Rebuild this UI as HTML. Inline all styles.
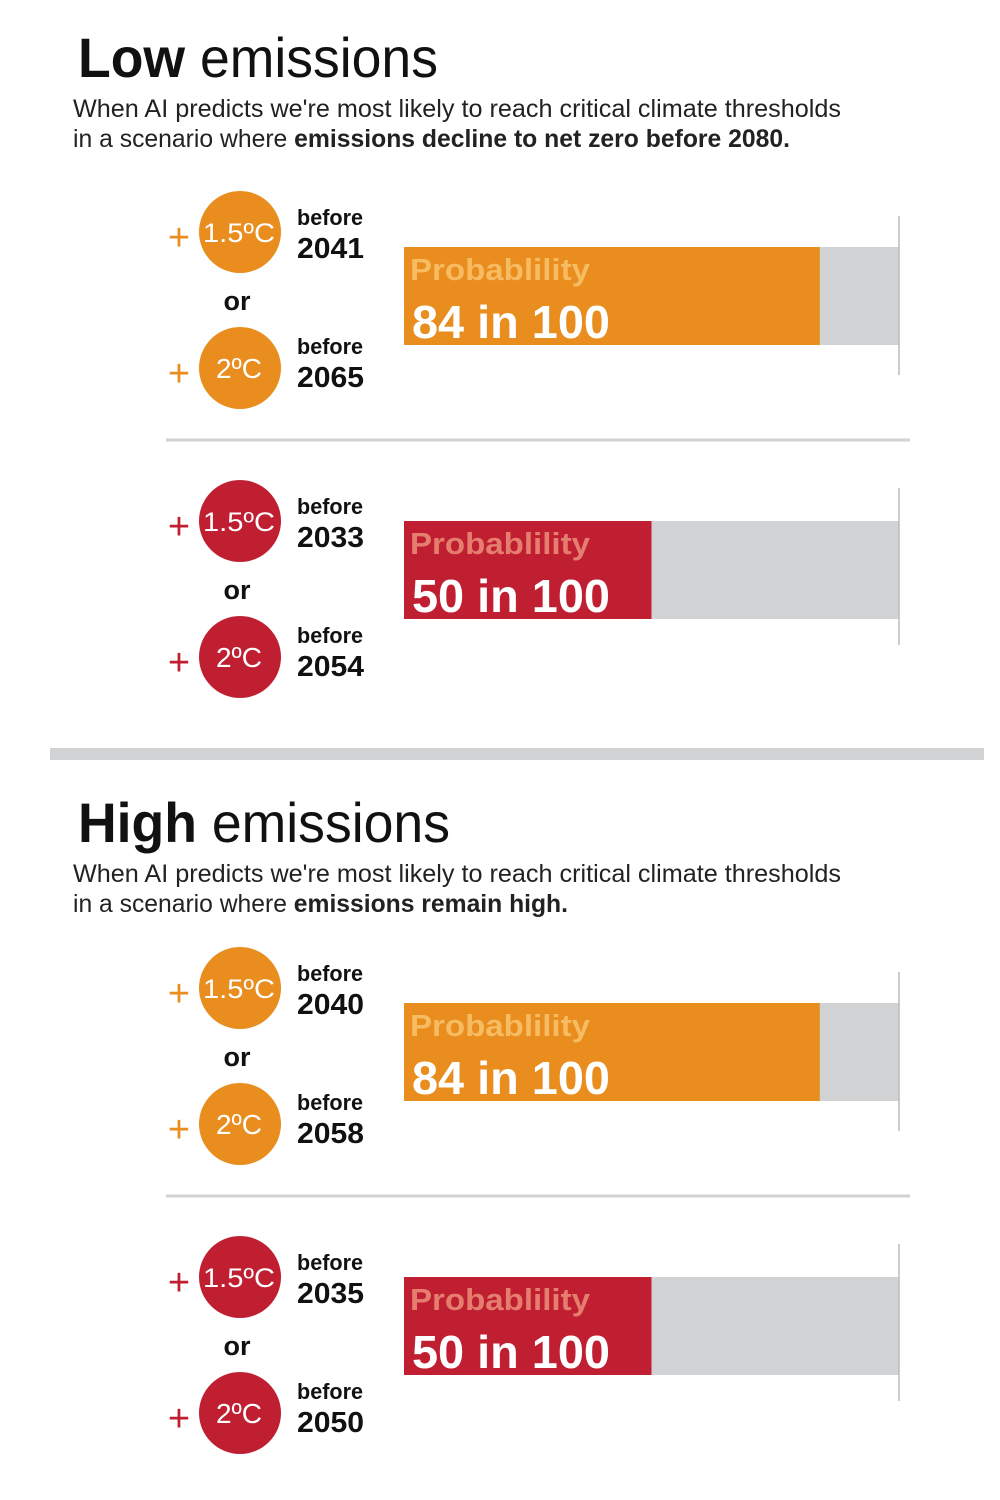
<!DOCTYPE html>
<html><head><meta charset="utf-8">
<style>
html,body{margin:0;padding:0;background:#fff;}
svg{display:block;font-family:"Liberation Sans",sans-serif;}
</style></head>
<body>
<svg id="chart" width="1000" height="1500" viewBox="0 0 1000 1500" xmlns="http://www.w3.org/2000/svg"></svg>
<script>
// Data
const scenarios = ["Low", "High"];
const subtitleBold = ["emissions decline to net zero before 2080.", "emissions remain high."];
const thresholds = ["1.5ºC", "2ºC"];
const years15 = [2041, 2033, 2040, 2035];
const years20 = [2065, 2054, 2058, 2050];
const probabilities = [84, 50, 84, 50];
const probMax = 100;

const NS = "http://www.w3.org/2000/svg";
const svg = document.getElementById("chart");
function mk(tag, attrs, parent){
  const e = document.createElementNS(NS, tag);
  for (const k in attrs) e.setAttribute(k, attrs[k]);
  (parent||svg).appendChild(e);
  return e;
}
const barX0 = 404, barX1 = 899;
const xScale = v => barX0 + (barX1 - barX0) * v / probMax;
const ORANGE = "#e88d1e", RED = "#c01f32", GRAY = "#d1d2d4";
const LIGHT = {[ORANGE]:"#f7bb62", [RED]:"#e57e6f"};

scenarios.forEach((s, si) => {
  const oy = si * 765;
  const g = mk("g", {});
  
  
  const t = mk("text", {x:78, y:77+oy, "font-size":56, fill:"#111", textLength:360, lengthAdjust:"spacingAndGlyphs"}, g);
  
  
  const b = mk("tspan", {"font-weight":"bold"}, t); b.textContent = s;
  const r = mk("tspan", {}, t); r.textContent = " emissions";
  if (si===1) t.setAttribute("textLength", 372);
  const s1 = mk("text", {x:73, y:117+oy, "font-size":25, fill:"#222", textLength:768, lengthAdjust:"spacingAndGlyphs"}, g);
  
  
  s1.textContent = "When AI predicts we're most likely to reach critical climate thresholds";
  const s2 = mk("text", {x:73, y:147+oy, "font-size":25, fill:"#222", textLength: si===0?717:495, lengthAdjust:"spacingAndGlyphs"}, g);
  
  
  const a = mk("tspan", {}, s2); a.textContent = "in a scenario where ";
  const bb = mk("tspan", {"font-weight":"bold"}, s2); bb.textContent = subtitleBold[si];
});

const div = mk("rect", {x:50, y:748, width:934, height:12, fill:GRAY});



const panelY = [232, 521, 988, 1277];
probabilities.forEach((p, i) => {
  const cy = panelY[i];
  const isOrange = (i % 2 === 0);
  const col = isOrange ? ORANGE : RED;
  const g = mk("g", {});
  
  
  [[cy, thresholds[0], years15[i], 0], [cy+136, thresholds[1], years20[i], -7]].forEach(([y, lab, yr, dy]) => {
    const plus = mk("text", {x:179, y:y+18, "font-size":38, fill:col, "text-anchor":"middle"}, g);
    
    
    plus.textContent = "+";
    const c = mk("circle", {cx:240, cy:y, r:41, fill:col}, g);
    
    
    const ct = mk("text", {x:239, y:y+10, "font-size":lab.length>3?27:28, fill:"#fff", "text-anchor":"middle"}, g);
    
    
    if (lab.length > 3) { ct.setAttribute("textLength", 72); ct.setAttribute("lengthAdjust","spacingAndGlyphs"); }
    ct.textContent = lab;
    const bt = mk("text", {x:297, y:y-7+dy, "font-size":22, "font-weight":"bold", fill:"#111", textLength:66, lengthAdjust:"spacingAndGlyphs"}, g);
    
    
    bt.textContent = "before";
    const yt = mk("text", {x:297, y:y+26+dy, "font-size":29, "font-weight":"bold", fill:"#111", textLength:67, lengthAdjust:"spacingAndGlyphs"}, g);
    
    
    yt.textContent = yr;
  });
  const or = mk("text", {x:237, y:cy+78, "font-size":27, "font-weight":"bold", fill:"#111", "text-anchor":"middle"}, g);
  
  
  or.textContent = "or";
  const by = isOrange ? cy + 15 : cy;
  const bg = mk("rect", {x:barX0, y:by, width:barX1-barX0, height:98, fill:GRAY}, g);
  
  
  const bar = mk("rect", {x:barX0, y:by, width:xScale(p)-barX0, height:98, fill:col}, g);
  
  
  const ly1 = isOrange ? cy-16 : cy-33, ly2 = isOrange ? cy+143 : cy+124;
  const end = mk("line", {x1:barX1, x2:barX1, y1:ly1, y2:ly2, stroke:"#bbb", "stroke-width":1.5}, g);
  
  
  const pl = mk("text", {x:410, y:by+33, "font-size":31, "font-weight":"bold", fill:LIGHT[col], textLength:180, lengthAdjust:"spacingAndGlyphs"}, g);
  
  
  pl.textContent = "Probablility";
  const pv = mk("text", {x:412, y:by+91, "font-size":46, "font-weight":"bold", fill:"#fff", textLength:198, lengthAdjust:"spacingAndGlyphs"}, g);
  
  
  pv.textContent = p + " in " + probMax;
  if (isOrange) {
    const sep = mk("line", {x1:166, x2:910, y1:cy+208, y2:cy+208, stroke:GRAY, "stroke-width":3}, g);
    
    
  }
});
</script>
</body></html>
